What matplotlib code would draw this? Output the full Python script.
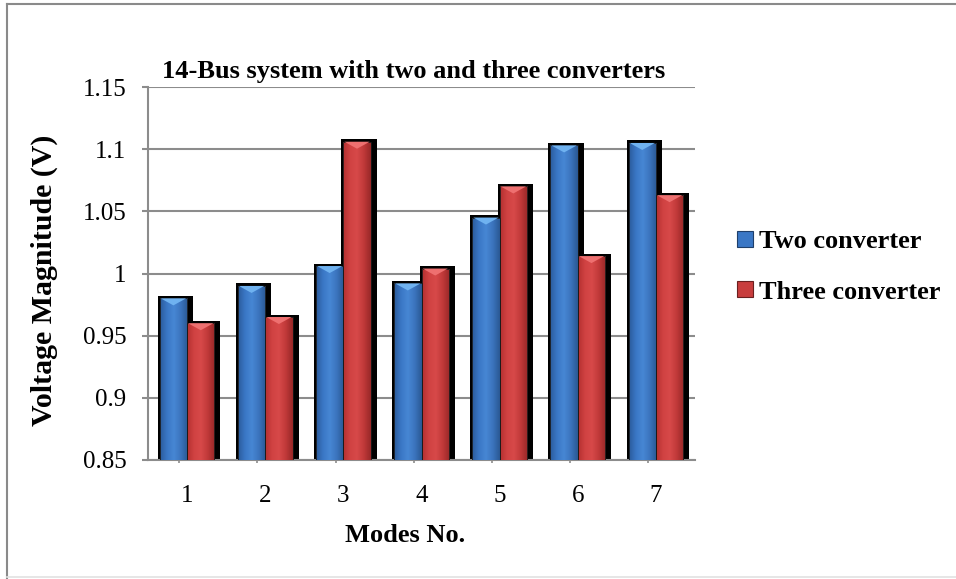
import numpy as np
import matplotlib
matplotlib.use("Agg")
import matplotlib.pyplot as plt
from matplotlib.patches import Rectangle, Polygon, Patch
from matplotlib.colors import LinearSegmentedColormap
from matplotlib.lines import Line2D

plt.rcParams['font.family'] = ['Liberation Serif', 'DejaVu Serif']

# Data
modes = ['1', '2', '3', '4', '5', '6', '7']
two_conv = [0.980, 0.990, 1.006, 0.992, 1.045, 1.103, 1.105]
three_conv = [0.960, 0.965, 1.106, 1.004, 1.070, 1.014, 1.063]
series_names = ['Two converter', 'Three converter']
yticks = [0.85, 0.9, 0.95, 1.0, 1.05, 1.1, 1.15]
ytick_labels = ['0.85', '0.9', '0.95', '1', '1.05', '1.1', '1.15']

W, H = 956, 579
fig = plt.figure(figsize=(W / 100, H / 100), dpi=100)
ax = fig.add_axes([148 / W, 1 - 460 / H, 547 / W, 373 / H])

ymin, ymax = 0.85, 1.15
px_x = 7.0 / 547          # data units per pixel (x)
px_y = (ymax - ymin) / 373  # data units per pixel (y)
bw = 0.35
grid_col = '#8c8c8c'

blue_cmap = LinearSegmentedColormap.from_list(
    'blue_bar', ['#2b5c9c', '#3a77c5', '#4787d4', '#3b74bd', '#2a5894'])
red_cmap = LinearSegmentedColormap.from_list(
    'red_bar', ['#b53030', '#d04242', '#d74949', '#c03939', '#982828'])
grad = np.linspace(0, 1, 64).reshape(1, -1)


def draw_bar(x0, val, cmap, cap_color):
    h = val - ymin
    # black drop shadow behind the bar
    ax.add_patch(Rectangle((x0 - 2 * px_x, ymin), bw + 8 * px_x, h + 2.5 * px_y,
                           fc='black', ec='none', zorder=2))
    bar = ax.bar(x0, h, bw, bottom=ymin, align='edge', color='none',
                 edgecolor='#1a1a1a', lw=0.6, zorder=4)[0]
    im = ax.imshow(grad, extent=(x0, x0 + bw, ymin, val), aspect='auto',
                   cmap=cmap, zorder=3, interpolation='bilinear')
    im.set_clip_path(bar)
    # bevel on the top edge
    cap = 7 * px_y
    ax.add_patch(Polygon([(x0 + px_x, val), (x0 + bw - px_x, val),
                          (x0 + bw / 2, val - cap)],
                         closed=True, fc=cap_color, ec='none', zorder=5))


x = np.arange(len(modes))
for i in range(len(modes)):
    draw_bar(x[i] - bw, two_conv[i], blue_cmap, '#6fb2f0')
    draw_bar(x[i], three_conv[i], red_cmap, '#ee7070')

ax.set_xlim(-0.5, len(modes) - 0.5)
ax.set_ylim(ymin, ymax)

# axes styling
for s in ['top', 'right']:
    ax.spines[s].set_visible(False)
for s in ['left', 'bottom']:
    ax.spines[s].set_color(grid_col)
    ax.spines[s].set_linewidth(1.5)
ax.set_yticks(yticks)
ax.set_yticklabels(ytick_labels, fontsize=18)
ax.tick_params(axis='y', length=4.5, width=1.5, color=grid_col, pad=11)
ax.set_xticks(x)
ax.set_xticklabels(modes, fontsize=18)
ax.tick_params(axis='x', length=0, pad=18)
ax.set_xticks(x - 0.1, minor=True)
ax.tick_params(axis='x', which='minor', length=2.5, width=1.2, color=grid_col)
ax.yaxis.grid(True, color=grid_col, linewidth=1.5, zorder=0)
ax.set_axisbelow(True)

ax.set_title('14-Bus system with two and three converters', fontsize=19,
             fontweight='bold', x=0.485, y=(460 - 78) / 373, pad=0)
ax.set_xlabel('Modes No.', fontsize=19, fontweight='bold')
ax.xaxis.label.set_va('center')
ax.xaxis.set_label_coords(0.47, (460 - 535) / 373)
ax.set_ylabel('Voltage Magnitude (V)', fontsize=21.5, fontweight='bold')
ax.yaxis.label.set_va('center')
ax.yaxis.set_label_coords((44 - 148) / 547, (460 - 280) / 373)

handles = [Patch(fc='#3a77c5', ec='#1f3f6a', lw=0.8),
           Patch(fc='#c83d3d', ec='#6a1f1f', lw=0.8)]
fig.legend(handles, series_names, loc='upper left',
           bbox_to_anchor=(737 / W, 1 - 230 / H), frameon=False,
           prop={'size': 19, 'weight': 'bold'}, borderpad=0, borderaxespad=0,
           handlelength=0.6, handleheight=0.55, handletextpad=0.25,
           labelspacing=1.05)

# outer frame
fig.add_artist(Line2D([7 / W, 7 / W], [0, 1 - 4 / H], color='#8a8a8a', lw=1.5))
fig.add_artist(Line2D([7 / W, 1], [1 - 4 / H, 1 - 4 / H], color='#8a8a8a', lw=1.5))
fig.add_artist(Line2D([7 / W, 1], [2 / H, 2 / H], color='#e2e2e2', lw=1.2))

fig.savefig('out.png', dpi=100, facecolor='white')
